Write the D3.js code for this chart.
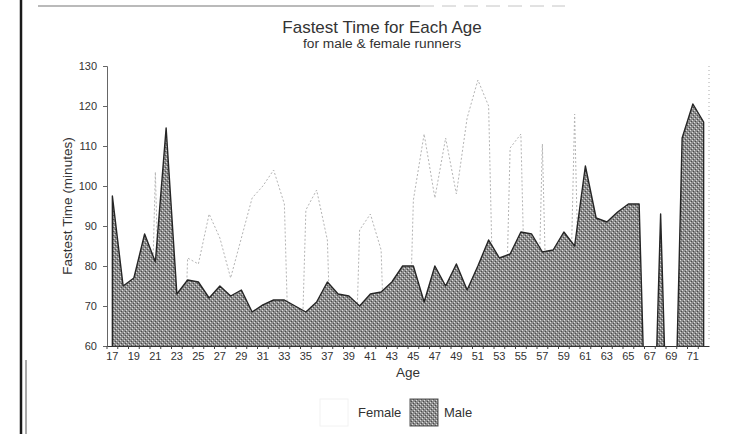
<!DOCTYPE html>
<html>
<head>
<meta charset="utf-8">
<script src="https://cdn.jsdelivr.net/npm/d3@7/dist/d3.min.js"></script>
<style>
  body { margin: 0; background: #fff; }
  svg { font-family: "Liberation Sans", Arial, sans-serif; display: block; }
</style>
</head>
<body>
<div id="chart"></div>
<script>
// categories: age of runner
const ages = [17, 18, 19, 20, 21, 22, 23, 24, 25, 26, 27, 28, 29, 30, 31, 32, 33, 34, 35, 36,
  37, 38, 39, 40, 41, 42, 43, 44, 45, 46, 47, 48, 49, 50, 51, 52, 53, 54, 55, 56,
  57, 58, 59, 60, 61, 62, 63, 64, 65, 66, 67, 68, 69, 70, 71, 72];

// fastest time in minutes, 0 = no runner of that age (plotted as zero, like the spreadsheet does)
const femaleTimes = [0, 0, 0, 0, 103.5, 0, 0, 82, 80.5, 93, 87, 77, 87, 97, 100, 104, 95.5, 0, 94, 99,
  86.5, 0, 0, 89, 93, 84, 0, 0, 96.5, 113, 97, 112, 98, 117, 126.5, 120, 0, 109.5, 113, 0,
  110.5, 0, 0, 118, 0, 0, 0, 0, 0, 0, 0, 0, 0, 0, 0, 0];

const maleTimes = [97.5, 75, 77, 88, 81, 114.5, 73, 76.5, 76, 72, 75, 72.5, 74, 68.5, 70.3, 71.5, 71.5, 70, 68.5, 71,
  76, 73, 72.5, 70, 73, 73.5, 76, 80, 80, 71, 80, 75, 80.5, 74, 80, 86.5, 82, 83, 88.5, 88,
  83.5, 84, 88.5, 85, 105, 92, 91, 93.5, 95.5, 95.5, 0, 93, 0, 112, 120.5, 116];

const yTicks = [60, 70, 80, 90, 100, 110, 120, 130];
const xTickLabels = [17, 19, 21, 23, 25, 27, 29, 31, 33, 35, 37, 39, 41, 43, 45, 47, 49, 51, 53, 55,
  57, 59, 61, 63, 65, 67, 69, 71];

const width = 732, height = 434;
const plot = { left: 107, right: 709, top: 66, bottom: 346 };

const svg = d3.select('#chart').append('svg')
  .attr('width', width)
  .attr('height', height);

const defs = svg.append('defs');

// halftone-ish fill for the male area
const pat = defs.append('pattern')
  .attr('id', 'maleFill')
  .attr('width', 4)
  .attr('height', 4)
  .attr('patternUnits', 'userSpaceOnUse');
pat.append('rect').attr('width', 4).attr('height', 4).attr('fill', '#8d8d8d');
pat.append('rect').attr('x', 0).attr('y', 0).attr('width', 1).attr('height', 1).attr('fill', '#dcdcdc');
pat.append('rect').attr('x', 2).attr('y', 2).attr('width', 1).attr('height', 1).attr('fill', '#dcdcdc');
pat.append('rect').attr('x', 1).attr('y', 3).attr('width', 1).attr('height', 1).attr('fill', '#4a4a4a');
pat.append('rect').attr('x', 3).attr('y', 1).attr('width', 1).attr('height', 1).attr('fill', '#4a4a4a');

defs.append('clipPath').attr('id', 'plotClip')
  .append('rect')
  .attr('x', plot.left)
  .attr('y', plot.top - 2)
  .attr('width', plot.right - plot.left)
  .attr('height', plot.bottom - plot.top + 2);

// scanned page edges
svg.append('line')
  .attr('x1', 21).attr('x2', 21).attr('y1', 0).attr('y2', height)
  .attr('stroke', '#1a1a1a').attr('stroke-width', 2.5);
svg.append('line')
  .attr('x1', 26).attr('x2', 26).attr('y1', 360).attr('y2', height)
  .attr('stroke', '#555').attr('stroke-width', 1);
svg.append('line')
  .attr('x1', 38).attr('x2', 420).attr('y1', 6).attr('y2', 6)
  .attr('stroke', '#777').attr('stroke-width', 1.2);
svg.append('line')
  .attr('x1', 420).attr('x2', 565).attr('y1', 6).attr('y2', 6)
  .attr('stroke', '#c4c4c4').attr('stroke-width', 1).attr('stroke-dasharray', '14,8');

const x = d3.scaleBand()
  .domain(ages)
  .range([plot.left, plot.right]);
const cx = (a) => x(a) + x.bandwidth() / 2;

const y = d3.scaleLinear()
  .domain([60, 130])
  .range([plot.bottom, plot.top]);

const female = ages.map((a, i) => ({ age: a, value: femaleTimes[i] }));
const male = ages.map((a, i) => ({ age: a, value: maleTimes[i] }));

const area = d3.area()
  .x((d) => cx(d.age))
  .y0(y(0))
  .y1((d) => y(d.value));

const g = svg.append('g').attr('clip-path', 'url(#plotClip)');

g.append('path')
  .datum(female)
  .attr('d', area)
  .attr('fill', '#fff')
  .attr('stroke', '#b4b4b4')
  .attr('stroke-width', 1)
  .attr('stroke-dasharray', '2,2');

g.append('path')
  .datum(male)
  .attr('d', area)
  .attr('fill', 'url(#maleFill)')
  .attr('stroke', '#262626')
  .attr('stroke-width', 1.4)
  .attr('stroke-linejoin', 'round');

// right edge of plot area
svg.append('line')
  .attr('x1', plot.right).attr('x2', plot.right)
  .attr('y1', plot.top).attr('y2', plot.bottom - 6)
  .attr('stroke', '#aaa')
  .attr('stroke-dasharray', '1,3');

// axes
const yAxis = svg.append('g')
  .attr('transform', `translate(${plot.left},0)`)
  .call(d3.axisLeft(y).tickValues(yTicks).tickSize(4).tickPadding(6));
yAxis.select('.domain').attr('stroke', '#666');
yAxis.selectAll('.tick line').attr('stroke', '#666');
yAxis.selectAll('text').attr('font-size', 11).attr('fill', '#333')
  .attr('font-family', '"Liberation Sans", Arial, sans-serif');

const xAxis = svg.append('g')
  .attr('transform', `translate(0,${plot.bottom})`)
  .call(d3.axisBottom(x).tickValues(xTickLabels).tickSize(0).tickPadding(6));
xAxis.select('.domain').attr('stroke', '#333').attr('stroke-width', 1.2);
xAxis.selectAll('text').attr('font-size', 11).attr('fill', '#333')
  .attr('font-family', '"Liberation Sans", Arial, sans-serif');

// tick marks between categories
xAxis.selectAll('.cat-tick')
  .data(ages)
  .enter()
  .append('line')
  .attr('class', 'cat-tick')
  .attr('x1', (d) => x(d))
  .attr('x2', (d) => x(d))
  .attr('y1', 0)
  .attr('y2', 3)
  .attr('stroke', '#444');

// titles
svg.append('text')
  .attr('x', 382).attr('y', 33)
  .attr('text-anchor', 'middle')
  .attr('font-size', 17)
  .attr('fill', '#333')
  .text('Fastest Time for Each Age');

svg.append('text')
  .attr('x', 382).attr('y', 48)
  .attr('text-anchor', 'middle')
  .attr('font-size', 12.5)
  .attr('fill', '#333')
  .attr('textLength', 158)
  .attr('lengthAdjust', 'spacingAndGlyphs')
  .text('for male & female runners');

svg.append('text')
  .attr('transform', 'translate(67,206) rotate(-90)')
  .attr('dy', '0.35em')
  .attr('text-anchor', 'middle')
  .attr('font-size', 13.5)
  .attr('fill', '#333')
  .text('Fastest Time (minutes)');

svg.append('text')
  .attr('x', 408).attr('y', 377)
  .attr('text-anchor', 'middle')
  .attr('font-size', 13.5)
  .attr('fill', '#333')
  .text('Age');

// legend
const legend = svg.append('g').attr('transform', 'translate(0,412)');
const items = [
  { name: 'Female', swatchX: 320, textX: 358, fill: '#fff', stroke: '#f2f2f2' },
  { name: 'Male', swatchX: 410, textX: 444, fill: 'url(#maleFill)', stroke: '#555' }
];
legend.selectAll('rect')
  .data(items)
  .enter()
  .append('rect')
  .attr('x', (d) => d.swatchX)
  .attr('y', -13)
  .attr('width', 28)
  .attr('height', 27)
  .attr('fill', (d) => d.fill)
  .attr('stroke', (d) => d.stroke);
legend.selectAll('text')
  .data(items)
  .enter()
  .append('text')
  .attr('x', (d) => d.textX)
  .attr('dy', '0.35em')
  .attr('font-size', 13)
  .attr('fill', '#333')
  .text((d) => d.name);
</script>
</body>
</html>
